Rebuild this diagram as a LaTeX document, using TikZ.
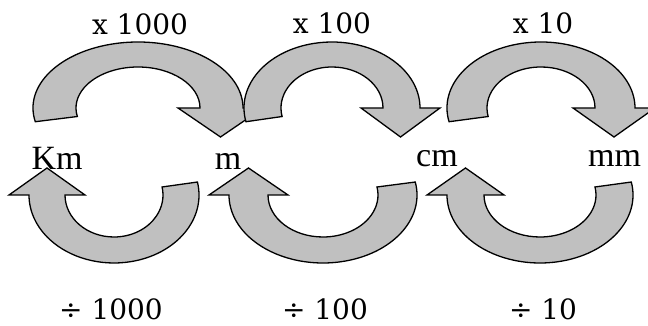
\documentclass[tikz,border=0pt]{standalone}
\usepackage{fontspec}
\usepackage{tikz}
\newfontfamily\unitfont{Liberation Serif}
\newfontfamily\opfont{DejaVu Serif}
\definecolor{turngray}{HTML}{C0C0C0}

\tikzset{
  turnarrow/.style={draw=black, line width=1.3pt, fill=turngray, line join=miter},
  unitlabel/.style={anchor=base, inner sep=0pt, font=\unitfont\fontsize{34}{36}\selectfont},
  oplabel/.style={anchor=base, inner sep=0pt, font=\opfont\fontsize{28}{30}\selectfont},
}

% upper turn arrow: centre x, outer x radius, inner x radius
\newcommand{\topcurve}[3]{%
  \draw[turnarrow] (#1,218) ++(192:#2 and 66)
    arc[start angle=192, end angle=0, x radius=#2, y radius=66]
    -- ({#1+#2+20},218) -- ({#1+(#3+#2-2)/2},189) -- ({#1+#3-22},218)
    -- ({#1+#3},218)
    arc[start angle=0, end angle=192, x radius=#3, y radius=41] -- cycle;}

% lower turn arrow: centre x, outer x radius, inner x radius
\newcommand{\bottomcurve}[3]{%
  \draw[turnarrow] (#1,131) ++(11:#2 and 68)
    arc[start angle=11, end angle=-180, x radius=#2, y radius=68]
    -- ({#1-#2-20},131) -- ({#1-(#2+#3)/2},158) -- ({#1-#3+20},131)
    -- ({#1-#3},131)
    arc[start angle=-180, end angle=11, x radius=#3, y radius=42] -- cycle;}

\begin{document}
\begin{tikzpicture}[x=1pt, y=1pt]
  \useasboundingbox (0,0) rectangle (648,326);

  % multiply: bigger unit to smaller unit
  \topcurve{138}{105}{62}
  \topcurve{332}{88}{51}
  \topcurve{541}{94}{54}

  % divide: smaller unit back to bigger unit
  \bottomcurve{114}{85}{49}
  \bottomcurve{323}{94}{55}
  \bottomcurve{540}{93}{56}

  \node[oplabel] (times1000) at (140,291) {x 1000};
  \node[oplabel] (times100) at (332,292) {x 100};
  \node[oplabel] (times10) at (543,292) {x 10};

  \node[unitlabel] (km) at (57,156) {Km};
  \node[unitlabel] (m) at (228,156) {m};
  \node[unitlabel] (cm) at (437,159) {cm};
  \node[unitlabel, anchor=base west] (mm) at (588,159) {mm};

  \node[oplabel] (div1000) at (111,6) {÷ 1000};
  \node[oplabel] (div100) at (325,6) {÷ 100};
  \node[oplabel] (div10) at (543,6) {÷ 10};
\end{tikzpicture}
\end{document}
